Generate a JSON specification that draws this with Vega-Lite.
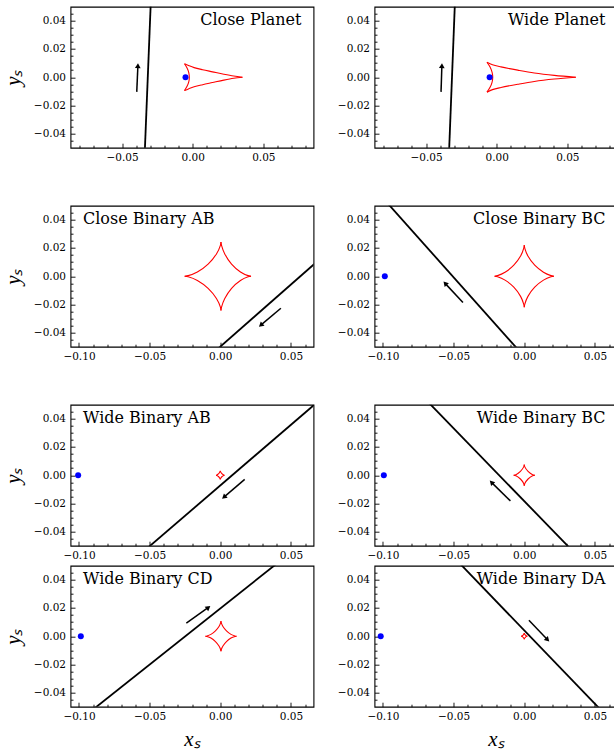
{
"$schema": "https://vega.github.io/schema/vega-lite/v6.json",
"padding": {"left": 1.5, "top": 5.7, "right": 0, "bottom": 0},
"background": "white",
"config": {
 "view": {"stroke": "black", "strokeWidth": 1.1},
 "axis": {"domain": false, "grid": false, "tickColor": "black", "tickWidth": 0.9, "labelFont": "DejaVu Serif", "labelFontSize": 10.5, "labelColor": "black", "titleFont": "Liberation Serif", "titleFontStyle": "italic", "titleFontWeight": "normal", "titleFontSize": 21, "titleColor": "black", "labelOverlap": false, "labelFlush": false},
 "title": {"font": "DejaVu Serif", "fontSize": 16, "fontWeight": "normal", "color": "black", "frame": "group", "offset": -21, "baseline": "alphabetic"}
},
"data": {"values": [
 {"p":1,"k":"t","s":0,"i":0,"x":-0.0342,"y":-0.06},{"p":1,"k":"t","s":0,"i":1,"x":-0.0294,"y":0.06},
 {"p":1,"k":"a","s":0,"i":0,"x":-0.0396,"y":-0.0104},{"p":1,"k":"a","s":0,"i":1,"x":-0.0388,"y":0.0081},
 {"p":1,"k":"h","s":0,"i":0,"x":-0.0388,"y":0.0081},
 {"p":1,"k":"s","s":0,"i":0,"x":-0.0051,"y":0},
 {"p":1,"k":"c","s":1,"i":0,"x":-0.0058,"y":0.0095},{"p":1,"k":"c","s":1,"i":1,"x":-0.003,"y":0.0083},{"p":1,"k":"c","s":1,"i":2,"x":0.001,"y":0.0068},{"p":1,"k":"c","s":1,"i":3,"x":0.007,"y":0.0053},{"p":1,"k":"c","s":1,"i":4,"x":0.014,"y":0.0038},{"p":1,"k":"c","s":1,"i":5,"x":0.022,"y":0.0021},{"p":1,"k":"c","s":1,"i":6,"x":0.029,"y":0.0008},{"p":1,"k":"c","s":1,"i":7,"x":0.0352,"y":0},
 {"p":1,"k":"c","s":2,"i":0,"x":-0.0058,"y":-0.0095},{"p":1,"k":"c","s":2,"i":1,"x":-0.003,"y":-0.0083},{"p":1,"k":"c","s":2,"i":2,"x":0.001,"y":-0.0068},{"p":1,"k":"c","s":2,"i":3,"x":0.007,"y":-0.0053},{"p":1,"k":"c","s":2,"i":4,"x":0.014,"y":-0.0038},{"p":1,"k":"c","s":2,"i":5,"x":0.022,"y":-0.0021},{"p":1,"k":"c","s":2,"i":6,"x":0.029,"y":-0.0008},{"p":1,"k":"c","s":2,"i":7,"x":0.0352,"y":0},
 {"p":1,"k":"c","s":3,"i":0,"x":-0.0058,"y":0.0095},{"p":1,"k":"c","s":3,"i":1,"x":-0.004,"y":0.0065},{"p":1,"k":"c","s":3,"i":2,"x":-0.0028,"y":0.0033},{"p":1,"k":"c","s":3,"i":3,"x":-0.0024,"y":0},{"p":1,"k":"c","s":3,"i":4,"x":-0.0028,"y":-0.0033},{"p":1,"k":"c","s":3,"i":5,"x":-0.004,"y":-0.0065},{"p":1,"k":"c","s":3,"i":6,"x":-0.0058,"y":-0.0095},

 {"p":2,"k":"t","s":0,"i":0,"x":-0.034,"y":-0.06},{"p":2,"k":"t","s":0,"i":1,"x":-0.0293,"y":0.06},
 {"p":2,"k":"a","s":0,"i":0,"x":-0.0394,"y":-0.0104},{"p":2,"k":"a","s":0,"i":1,"x":-0.0388,"y":0.0081},
 {"p":2,"k":"h","s":0,"i":0,"x":-0.0388,"y":0.0081},
 {"p":2,"k":"s","s":0,"i":0,"x":-0.005,"y":0},
 {"p":2,"k":"c","s":1,"i":0,"x":-0.0069,"y":0.0106},{"p":2,"k":"c","s":1,"i":1,"x":-0.003,"y":0.0088},{"p":2,"k":"c","s":1,"i":2,"x":0.003,"y":0.0073},{"p":2,"k":"c","s":1,"i":3,"x":0.0149,"y":0.005},{"p":2,"k":"c","s":1,"i":4,"x":0.0266,"y":0.003},{"p":2,"k":"c","s":1,"i":5,"x":0.0408,"y":0.0013},{"p":2,"k":"c","s":1,"i":6,"x":0.056,"y":0},
 {"p":2,"k":"c","s":2,"i":0,"x":-0.0069,"y":-0.0106},{"p":2,"k":"c","s":2,"i":1,"x":-0.003,"y":-0.0088},{"p":2,"k":"c","s":2,"i":2,"x":0.003,"y":-0.0073},{"p":2,"k":"c","s":2,"i":3,"x":0.0149,"y":-0.005},{"p":2,"k":"c","s":2,"i":4,"x":0.0266,"y":-0.003},{"p":2,"k":"c","s":2,"i":5,"x":0.0408,"y":-0.0013},{"p":2,"k":"c","s":2,"i":6,"x":0.056,"y":0},
 {"p":2,"k":"c","s":3,"i":0,"x":-0.0069,"y":0.0106},{"p":2,"k":"c","s":3,"i":1,"x":-0.0047,"y":0.0072},{"p":2,"k":"c","s":3,"i":2,"x":-0.0033,"y":0.0036},{"p":2,"k":"c","s":3,"i":3,"x":-0.0028,"y":0},{"p":2,"k":"c","s":3,"i":4,"x":-0.0033,"y":-0.0036},{"p":2,"k":"c","s":3,"i":5,"x":-0.0047,"y":-0.0072},{"p":2,"k":"c","s":3,"i":6,"x":-0.0069,"y":-0.0106},

 {"p":3,"k":"t","s":0,"i":0,"x":-0.01,"y":-0.0588},{"p":3,"k":"t","s":0,"i":1,"x":0.08,"y":0.0205},
 {"p":3,"k":"a","s":0,"i":0,"x":0.0429,"y":-0.0227},{"p":3,"k":"a","s":0,"i":1,"x":0.0287,"y":-0.0347},
 {"p":3,"k":"h","s":0,"i":0,"x":0.0287,"y":-0.0347},
 {"p":3,"k":"c","s":1,"i":0,"x":0.0218,"y":0},{"p":3,"k":"c","s":1,"i":1,"x":0.0197,"y":0.0004},{"p":3,"k":"c","s":1,"i":2,"x":0.0143,"y":0.003},{"p":3,"k":"c","s":1,"i":3,"x":0.008,"y":0.0086},{"p":3,"k":"c","s":1,"i":4,"x":0.0032,"y":0.0158},{"p":3,"k":"c","s":1,"i":5,"x":0.0009,"y":0.0219},{"p":3,"k":"c","s":1,"i":6,"x":0.0005,"y":0.0243},
 {"p":3,"k":"c","s":2,"i":0,"x":0.0218,"y":0},{"p":3,"k":"c","s":2,"i":1,"x":0.0197,"y":-0.0004},{"p":3,"k":"c","s":2,"i":2,"x":0.0143,"y":-0.003},{"p":3,"k":"c","s":2,"i":3,"x":0.008,"y":-0.0086},{"p":3,"k":"c","s":2,"i":4,"x":0.0032,"y":-0.0158},{"p":3,"k":"c","s":2,"i":5,"x":0.0009,"y":-0.0219},{"p":3,"k":"c","s":2,"i":6,"x":0.0005,"y":-0.0243},
 {"p":3,"k":"c","s":3,"i":0,"x":-0.0252,"y":0},{"p":3,"k":"c","s":3,"i":1,"x":-0.0227,"y":0.0004},{"p":3,"k":"c","s":3,"i":2,"x":-0.0162,"y":0.003},{"p":3,"k":"c","s":3,"i":3,"x":-0.0086,"y":0.0086},{"p":3,"k":"c","s":3,"i":4,"x":-0.0027,"y":0.0158},{"p":3,"k":"c","s":3,"i":5,"x":0.0001,"y":0.0219},{"p":3,"k":"c","s":3,"i":6,"x":0.0005,"y":0.0243},
 {"p":3,"k":"c","s":4,"i":0,"x":-0.0252,"y":0},{"p":3,"k":"c","s":4,"i":1,"x":-0.0227,"y":-0.0004},{"p":3,"k":"c","s":4,"i":2,"x":-0.0162,"y":-0.003},{"p":3,"k":"c","s":4,"i":3,"x":-0.0086,"y":-0.0086},{"p":3,"k":"c","s":4,"i":4,"x":-0.0027,"y":-0.0158},{"p":3,"k":"c","s":4,"i":5,"x":0.0001,"y":-0.0219},{"p":3,"k":"c","s":4,"i":6,"x":0.0005,"y":-0.0243},

 {"p":4,"k":"t","s":0,"i":0,"x":-0.1041,"y":0.06},{"p":4,"k":"t","s":0,"i":1,"x":0.0027,"y":-0.06},
 {"p":4,"k":"a","s":0,"i":0,"x":-0.0434,"y":-0.0186},{"p":4,"k":"a","s":0,"i":1,"x":-0.056,"y":-0.0051},
 {"p":4,"k":"h","s":0,"i":0,"x":-0.056,"y":-0.0051},
 {"p":4,"k":"s","s":0,"i":0,"x":-0.0987,"y":0},
 {"p":4,"k":"c","s":1,"i":0,"x":0.021,"y":0},{"p":4,"k":"c","s":1,"i":1,"x":0.0189,"y":0.0004},{"p":4,"k":"c","s":1,"i":2,"x":0.0136,"y":0.0028},{"p":4,"k":"c","s":1,"i":3,"x":0.0074,"y":0.0078},{"p":4,"k":"c","s":1,"i":4,"x":0.0026,"y":0.0143},{"p":4,"k":"c","s":1,"i":5,"x":0.0004,"y":0.0198},{"p":4,"k":"c","s":1,"i":6,"x":0,"y":0.022},
 {"p":4,"k":"c","s":2,"i":0,"x":0.021,"y":0},{"p":4,"k":"c","s":2,"i":1,"x":0.0189,"y":-0.0004},{"p":4,"k":"c","s":2,"i":2,"x":0.0136,"y":-0.0028},{"p":4,"k":"c","s":2,"i":3,"x":0.0074,"y":-0.0078},{"p":4,"k":"c","s":2,"i":4,"x":0.0026,"y":-0.0143},{"p":4,"k":"c","s":2,"i":5,"x":0.0004,"y":-0.0198},{"p":4,"k":"c","s":2,"i":6,"x":0,"y":-0.022},
 {"p":4,"k":"c","s":3,"i":0,"x":-0.021,"y":0},{"p":4,"k":"c","s":3,"i":1,"x":-0.0189,"y":0.0004},{"p":4,"k":"c","s":3,"i":2,"x":-0.0136,"y":0.0028},{"p":4,"k":"c","s":3,"i":3,"x":-0.0074,"y":0.0078},{"p":4,"k":"c","s":3,"i":4,"x":-0.0026,"y":0.0143},{"p":4,"k":"c","s":3,"i":5,"x":-0.0004,"y":0.0198},{"p":4,"k":"c","s":3,"i":6,"x":0,"y":0.022},
 {"p":4,"k":"c","s":4,"i":0,"x":-0.021,"y":0},{"p":4,"k":"c","s":4,"i":1,"x":-0.0189,"y":-0.0004},{"p":4,"k":"c","s":4,"i":2,"x":-0.0136,"y":-0.0028},{"p":4,"k":"c","s":4,"i":3,"x":-0.0074,"y":-0.0078},{"p":4,"k":"c","s":4,"i":4,"x":-0.0026,"y":-0.0143},{"p":4,"k":"c","s":4,"i":5,"x":-0.0004,"y":-0.0198},{"p":4,"k":"c","s":4,"i":6,"x":0,"y":-0.022},

 {"p":5,"k":"t","s":0,"i":0,"x":-0.0612,"y":-0.06},{"p":5,"k":"t","s":0,"i":1,"x":0.0782,"y":0.06},
 {"p":5,"k":"a","s":0,"i":0,"x":0.0173,"y":-0.003},{"p":5,"k":"a","s":0,"i":1,"x":0.0026,"y":-0.0156},
 {"p":5,"k":"h","s":0,"i":0,"x":0.0026,"y":-0.0156},
 {"p":5,"k":"s","s":0,"i":0,"x":-0.1006,"y":0},
 {"p":5,"k":"c","s":1,"i":0,"x":0.003,"y":0},{"p":5,"k":"c","s":1,"i":1,"x":0.0024,"y":0.0002},{"p":5,"k":"c","s":1,"i":2,"x":0.0011,"y":0.0011},{"p":5,"k":"c","s":1,"i":3,"x":0.0002,"y":0.0024},{"p":5,"k":"c","s":1,"i":4,"x":0,"y":0.003},
 {"p":5,"k":"c","s":2,"i":0,"x":0.003,"y":0},{"p":5,"k":"c","s":2,"i":1,"x":0.0024,"y":-0.0002},{"p":5,"k":"c","s":2,"i":2,"x":0.0011,"y":-0.0011},{"p":5,"k":"c","s":2,"i":3,"x":0.0002,"y":-0.0024},{"p":5,"k":"c","s":2,"i":4,"x":0,"y":-0.003},
 {"p":5,"k":"c","s":3,"i":0,"x":-0.003,"y":0},{"p":5,"k":"c","s":3,"i":1,"x":-0.0024,"y":0.0002},{"p":5,"k":"c","s":3,"i":2,"x":-0.0011,"y":0.0011},{"p":5,"k":"c","s":3,"i":3,"x":-0.0002,"y":0.0024},{"p":5,"k":"c","s":3,"i":4,"x":0,"y":0.003},
 {"p":5,"k":"c","s":4,"i":0,"x":-0.003,"y":0},{"p":5,"k":"c","s":4,"i":1,"x":-0.0024,"y":-0.0002},{"p":5,"k":"c","s":4,"i":2,"x":-0.0011,"y":-0.0011},{"p":5,"k":"c","s":4,"i":3,"x":-0.0002,"y":-0.0024},{"p":5,"k":"c","s":4,"i":4,"x":0,"y":-0.003},

 {"p":6,"k":"t","s":0,"i":0,"x":-0.0759,"y":0.06},{"p":6,"k":"t","s":0,"i":1,"x":0.0403,"y":-0.06},
 {"p":6,"k":"a","s":0,"i":0,"x":-0.0098,"y":-0.0182},{"p":6,"k":"a","s":0,"i":1,"x":-0.0232,"y":-0.0051},
 {"p":6,"k":"h","s":0,"i":0,"x":-0.0232,"y":-0.0051},
 {"p":6,"k":"s","s":0,"i":0,"x":-0.0994,"y":0},
 {"p":6,"k":"c","s":1,"i":0,"x":0.0075,"y":0},{"p":6,"k":"c","s":1,"i":1,"x":0.0059,"y":0.0004},{"p":6,"k":"c","s":1,"i":2,"x":0.0027,"y":0.0027},{"p":6,"k":"c","s":1,"i":3,"x":0.0004,"y":0.0059},{"p":6,"k":"c","s":1,"i":4,"x":0,"y":0.0075},
 {"p":6,"k":"c","s":2,"i":0,"x":0.0075,"y":0},{"p":6,"k":"c","s":2,"i":1,"x":0.0059,"y":-0.0004},{"p":6,"k":"c","s":2,"i":2,"x":0.0027,"y":-0.0027},{"p":6,"k":"c","s":2,"i":3,"x":0.0004,"y":-0.0059},{"p":6,"k":"c","s":2,"i":4,"x":0,"y":-0.0075},
 {"p":6,"k":"c","s":3,"i":0,"x":-0.0075,"y":0},{"p":6,"k":"c","s":3,"i":1,"x":-0.0059,"y":0.0004},{"p":6,"k":"c","s":3,"i":2,"x":-0.0027,"y":0.0027},{"p":6,"k":"c","s":3,"i":3,"x":-0.0004,"y":0.0059},{"p":6,"k":"c","s":3,"i":4,"x":0,"y":0.0075},
 {"p":6,"k":"c","s":4,"i":0,"x":-0.0075,"y":0},{"p":6,"k":"c","s":4,"i":1,"x":-0.0059,"y":-0.0004},{"p":6,"k":"c","s":4,"i":2,"x":-0.0027,"y":-0.0027},{"p":6,"k":"c","s":4,"i":3,"x":-0.0004,"y":-0.0059},{"p":6,"k":"c","s":4,"i":4,"x":0,"y":-0.0075},

 {"p":7,"k":"t","s":0,"i":0,"x":-0.1001,"y":-0.06},{"p":7,"k":"t","s":0,"i":1,"x":0.0507,"y":0.06},
 {"p":7,"k":"a","s":0,"i":0,"x":-0.024,"y":0.0093},{"p":7,"k":"a","s":0,"i":1,"x":-0.0084,"y":0.0204},
 {"p":7,"k":"h","s":0,"i":0,"x":-0.0084,"y":0.0204},
 {"p":7,"k":"s","s":0,"i":0,"x":-0.0987,"y":0},
 {"p":7,"k":"c","s":1,"i":0,"x":0.0115,"y":0},{"p":7,"k":"c","s":1,"i":1,"x":0.0104,"y":0.0002},{"p":7,"k":"c","s":1,"i":2,"x":0.0076,"y":0.0013},{"p":7,"k":"c","s":1,"i":3,"x":0.0044,"y":0.0038},{"p":7,"k":"c","s":1,"i":4,"x":0.0019,"y":0.0069},{"p":7,"k":"c","s":1,"i":5,"x":0.0007,"y":0.0096},{"p":7,"k":"c","s":1,"i":6,"x":0.0005,"y":0.0107},
 {"p":7,"k":"c","s":2,"i":0,"x":0.0115,"y":0},{"p":7,"k":"c","s":2,"i":1,"x":0.0104,"y":-0.0002},{"p":7,"k":"c","s":2,"i":2,"x":0.0076,"y":-0.0013},{"p":7,"k":"c","s":2,"i":3,"x":0.0044,"y":-0.0038},{"p":7,"k":"c","s":2,"i":4,"x":0.0019,"y":-0.0069},{"p":7,"k":"c","s":2,"i":5,"x":0.0007,"y":-0.0096},{"p":7,"k":"c","s":2,"i":6,"x":0.0005,"y":-0.0107},
 {"p":7,"k":"c","s":3,"i":0,"x":-0.0105,"y":0},{"p":7,"k":"c","s":3,"i":1,"x":-0.0094,"y":0.0002},{"p":7,"k":"c","s":3,"i":2,"x":-0.0066,"y":0.0013},{"p":7,"k":"c","s":3,"i":3,"x":-0.0034,"y":0.0038},{"p":7,"k":"c","s":3,"i":4,"x":-0.0009,"y":0.0069},{"p":7,"k":"c","s":3,"i":5,"x":0.0003,"y":0.0096},{"p":7,"k":"c","s":3,"i":6,"x":0.0005,"y":0.0107},
 {"p":7,"k":"c","s":4,"i":0,"x":-0.0105,"y":0},{"p":7,"k":"c","s":4,"i":1,"x":-0.0094,"y":-0.0002},{"p":7,"k":"c","s":4,"i":2,"x":-0.0066,"y":-0.0013},{"p":7,"k":"c","s":4,"i":3,"x":-0.0034,"y":-0.0038},{"p":7,"k":"c","s":4,"i":4,"x":-0.0009,"y":-0.0069},{"p":7,"k":"c","s":4,"i":5,"x":0.0003,"y":-0.0096},{"p":7,"k":"c","s":4,"i":6,"x":0.0005,"y":-0.0107},

 {"p":8,"k":"t","s":0,"i":0,"x":-0.0537,"y":0.06},{"p":8,"k":"t","s":0,"i":1,"x":0.0616,"y":-0.06},
 {"p":8,"k":"a","s":0,"i":0,"x":0.0033,"y":0.0113},{"p":8,"k":"a","s":0,"i":1,"x":0.0165,"y":-0.0025},
 {"p":8,"k":"h","s":0,"i":0,"x":0.0165,"y":-0.0025},
 {"p":8,"k":"s","s":0,"i":0,"x":-0.1016,"y":0},
 {"p":8,"k":"c","s":1,"i":0,"x":0.0022,"y":0},{"p":8,"k":"c","s":1,"i":1,"x":0.0017,"y":0.0001},{"p":8,"k":"c","s":1,"i":2,"x":0.0008,"y":0.0008},{"p":8,"k":"c","s":1,"i":3,"x":0.0001,"y":0.0017},{"p":8,"k":"c","s":1,"i":4,"x":0,"y":0.0022},
 {"p":8,"k":"c","s":2,"i":0,"x":0.0022,"y":0},{"p":8,"k":"c","s":2,"i":1,"x":0.0017,"y":-0.0001},{"p":8,"k":"c","s":2,"i":2,"x":0.0008,"y":-0.0008},{"p":8,"k":"c","s":2,"i":3,"x":0.0001,"y":-0.0017},{"p":8,"k":"c","s":2,"i":4,"x":0,"y":-0.0022},
 {"p":8,"k":"c","s":3,"i":0,"x":-0.0022,"y":0},{"p":8,"k":"c","s":3,"i":1,"x":-0.0017,"y":0.0001},{"p":8,"k":"c","s":3,"i":2,"x":-0.0008,"y":0.0008},{"p":8,"k":"c","s":3,"i":3,"x":-0.0001,"y":0.0017},{"p":8,"k":"c","s":3,"i":4,"x":0,"y":0.0022},
 {"p":8,"k":"c","s":4,"i":0,"x":-0.0022,"y":0},{"p":8,"k":"c","s":4,"i":1,"x":-0.0017,"y":-0.0001},{"p":8,"k":"c","s":4,"i":2,"x":-0.0008,"y":-0.0008},{"p":8,"k":"c","s":4,"i":3,"x":-0.0001,"y":-0.0017},{"p":8,"k":"c","s":4,"i":4,"x":0,"y":-0.0022}
]},
"spacing": 39,
"vconcat": [
 {"hconcat": [
  {"width": 243, "height": 141, "title": {"text": "Close Planet", "anchor": "end", "dx": -12},
   "transform": [{"filter": "datum.p == 1"}],
   "encoding": {
    "x": {"field": "x", "type": "quantitative", "scale": {"domain": [-0.0865, 0.0855], "nice": false, "zero": false}, "axis": {"title": null, "values": [-0.08,-0.07,-0.06,-0.05,-0.04,-0.03,-0.02,-0.01,0,0.01,0.02,0.03,0.04,0.05,0.06,0.07,0.08], "format": ".2f", "labelExpr": "abs(datum.value*20 - round(datum.value*20)) < 0.001 ? datum.label : ''", "tickSize": {"condition": {"test": "abs(datum.value*20 - round(datum.value*20)) < 0.001", "value": -4.5}, "value": -2.5}, "labelPadding": 9}},
    "y": {"field": "y", "type": "quantitative", "scale": {"domain": [-0.05, 0.05], "nice": false, "zero": false}, "axis": {"title": "yₛ", "titlePadding": 9.5, "values": [-0.045,-0.04,-0.035,-0.03,-0.025,-0.02,-0.015,-0.01,-0.005,0,0.005,0.01,0.015,0.02,0.025,0.03,0.035,0.04,0.045], "format": ".2f", "labelExpr": "abs(datum.value*50 - round(datum.value*50)) < 0.001 ? datum.label : ''", "tickSize": {"condition": {"test": "abs(datum.value*50 - round(datum.value*50)) < 0.001", "value": -4.5}, "value": -2.5}, "labelPadding": 9.5}}
   },
   "layer": [
    {"transform": [{"filter": "datum.k == 't'"}], "mark": {"type": "line", "clip": true, "color": "black", "strokeWidth": 1.8}, "encoding": {"order": {"field": "i"}}},
    {"transform": [{"filter": "datum.k == 'c'"}], "mark": {"type": "line", "clip": true, "color": "red", "strokeWidth": 1.1, "interpolate": "catmull-rom"}, "encoding": {"detail": {"field": "s"}, "order": {"field": "i"}}},
    {"transform": [{"filter": "datum.k == 'a'"}], "mark": {"type": "line", "color": "black", "strokeWidth": 1.5}, "encoding": {"order": {"field": "i"}}},
    {"transform": [{"filter": "datum.k == 'h'"}], "mark": {"type": "point", "shape": "triangle-up", "filled": true, "color": "black", "opacity": 1, "size": 32, "angle": 2.5}},
    {"transform": [{"filter": "datum.k == 's'"}], "mark": {"type": "circle", "color": "blue", "opacity": 1, "size": 36}}
   ]},
  {"width": 243, "height": 141, "title": {"text": "Wide Planet", "anchor": "end", "dx": -12},
   "transform": [{"filter": "datum.p == 2"}],
   "encoding": {
    "x": {"field": "x", "type": "quantitative", "scale": {"domain": [-0.0865, 0.0855], "nice": false, "zero": false}, "axis": {"title": null, "values": [-0.08,-0.07,-0.06,-0.05,-0.04,-0.03,-0.02,-0.01,0,0.01,0.02,0.03,0.04,0.05,0.06,0.07,0.08], "format": ".2f", "labelExpr": "abs(datum.value*20 - round(datum.value*20)) < 0.001 ? datum.label : ''", "tickSize": {"condition": {"test": "abs(datum.value*20 - round(datum.value*20)) < 0.001", "value": -4.5}, "value": -2.5}, "labelPadding": 9}},
    "y": {"field": "y", "type": "quantitative", "scale": {"domain": [-0.05, 0.05], "nice": false, "zero": false}, "axis": {"title": null, "values": [-0.045,-0.04,-0.035,-0.03,-0.025,-0.02,-0.015,-0.01,-0.005,0,0.005,0.01,0.015,0.02,0.025,0.03,0.035,0.04,0.045], "format": ".2f", "labelExpr": "abs(datum.value*50 - round(datum.value*50)) < 0.001 ? datum.label : ''", "tickSize": {"condition": {"test": "abs(datum.value*50 - round(datum.value*50)) < 0.001", "value": -4.5}, "value": -2.5}, "labelPadding": 9.5}}
   },
   "layer": [
    {"transform": [{"filter": "datum.k == 't'"}], "mark": {"type": "line", "clip": true, "color": "black", "strokeWidth": 1.8}, "encoding": {"order": {"field": "i"}}},
    {"transform": [{"filter": "datum.k == 'c'"}], "mark": {"type": "line", "clip": true, "color": "red", "strokeWidth": 1.1, "interpolate": "catmull-rom"}, "encoding": {"detail": {"field": "s"}, "order": {"field": "i"}}},
    {"transform": [{"filter": "datum.k == 'a'"}], "mark": {"type": "line", "color": "black", "strokeWidth": 1.5}, "encoding": {"order": {"field": "i"}}},
    {"transform": [{"filter": "datum.k == 'h'"}], "mark": {"type": "point", "shape": "triangle-up", "filled": true, "color": "black", "opacity": 1, "size": 32, "angle": 2.5}},
    {"transform": [{"filter": "datum.k == 's'"}], "mark": {"type": "circle", "color": "blue", "opacity": 1, "size": 36}}
   ]}
 ], "spacing": 22},
 {"hconcat": [
  {"width": 243, "height": 141, "title": {"text": "Close Binary AB", "anchor": "start", "dx": 12.5},
   "transform": [{"filter": "datum.p == 3"}],
   "encoding": {
    "x": {"field": "x", "type": "quantitative", "scale": {"domain": [-0.106, 0.066], "nice": false, "zero": false}, "axis": {"title": null, "values": [-0.1,-0.09,-0.08,-0.07,-0.06,-0.05,-0.04,-0.03,-0.02,-0.01,0,0.01,0.02,0.03,0.04,0.05,0.06], "format": ".2f", "labelExpr": "abs(datum.value*20 - round(datum.value*20)) < 0.001 ? datum.label : ''", "tickSize": {"condition": {"test": "abs(datum.value*20 - round(datum.value*20)) < 0.001", "value": -4.5}, "value": -2.5}, "labelPadding": 9}},
    "y": {"field": "y", "type": "quantitative", "scale": {"domain": [-0.05, 0.05], "nice": false, "zero": false}, "axis": {"title": "yₛ", "titlePadding": 9.5, "values": [-0.045,-0.04,-0.035,-0.03,-0.025,-0.02,-0.015,-0.01,-0.005,0,0.005,0.01,0.015,0.02,0.025,0.03,0.035,0.04,0.045], "format": ".2f", "labelExpr": "abs(datum.value*50 - round(datum.value*50)) < 0.001 ? datum.label : ''", "tickSize": {"condition": {"test": "abs(datum.value*50 - round(datum.value*50)) < 0.001", "value": -4.5}, "value": -2.5}, "labelPadding": 9.5}}
   },
   "layer": [
    {"transform": [{"filter": "datum.k == 't'"}], "mark": {"type": "line", "clip": true, "color": "black", "strokeWidth": 1.8}, "encoding": {"order": {"field": "i"}}},
    {"transform": [{"filter": "datum.k == 'c'"}], "mark": {"type": "line", "clip": true, "color": "red", "strokeWidth": 1.1, "interpolate": "catmull-rom"}, "encoding": {"detail": {"field": "s"}, "order": {"field": "i"}}},
    {"transform": [{"filter": "datum.k == 'a'"}], "mark": {"type": "line", "color": "black", "strokeWidth": 1.5}, "encoding": {"order": {"field": "i"}}},
    {"transform": [{"filter": "datum.k == 'h'"}], "mark": {"type": "point", "shape": "triangle-up", "filled": true, "color": "black", "opacity": 1, "size": 32, "angle": 229}}
   ]},
  {"width": 243, "height": 141, "title": {"text": "Close Binary BC", "anchor": "end", "dx": -12},
   "transform": [{"filter": "datum.p == 4"}],
   "encoding": {
    "x": {"field": "x", "type": "quantitative", "scale": {"domain": [-0.106, 0.066], "nice": false, "zero": false}, "axis": {"title": null, "values": [-0.1,-0.09,-0.08,-0.07,-0.06,-0.05,-0.04,-0.03,-0.02,-0.01,0,0.01,0.02,0.03,0.04,0.05,0.06], "format": ".2f", "labelExpr": "abs(datum.value*20 - round(datum.value*20)) < 0.001 ? datum.label : ''", "tickSize": {"condition": {"test": "abs(datum.value*20 - round(datum.value*20)) < 0.001", "value": -4.5}, "value": -2.5}, "labelPadding": 9}},
    "y": {"field": "y", "type": "quantitative", "scale": {"domain": [-0.05, 0.05], "nice": false, "zero": false}, "axis": {"title": null, "values": [-0.045,-0.04,-0.035,-0.03,-0.025,-0.02,-0.015,-0.01,-0.005,0,0.005,0.01,0.015,0.02,0.025,0.03,0.035,0.04,0.045], "format": ".2f", "labelExpr": "abs(datum.value*50 - round(datum.value*50)) < 0.001 ? datum.label : ''", "tickSize": {"condition": {"test": "abs(datum.value*50 - round(datum.value*50)) < 0.001", "value": -4.5}, "value": -2.5}, "labelPadding": 9.5}}
   },
   "layer": [
    {"transform": [{"filter": "datum.k == 't'"}], "mark": {"type": "line", "clip": true, "color": "black", "strokeWidth": 1.8}, "encoding": {"order": {"field": "i"}}},
    {"transform": [{"filter": "datum.k == 'c'"}], "mark": {"type": "line", "clip": true, "color": "red", "strokeWidth": 1.1, "interpolate": "catmull-rom"}, "encoding": {"detail": {"field": "s"}, "order": {"field": "i"}}},
    {"transform": [{"filter": "datum.k == 'a'"}], "mark": {"type": "line", "color": "black", "strokeWidth": 1.5}, "encoding": {"order": {"field": "i"}}},
    {"transform": [{"filter": "datum.k == 'h'"}], "mark": {"type": "point", "shape": "triangle-up", "filled": true, "color": "black", "opacity": 1, "size": 32, "angle": 318}},
    {"transform": [{"filter": "datum.k == 's'"}], "mark": {"type": "circle", "color": "blue", "opacity": 1, "size": 36}}
   ]}
 ], "spacing": 22},
 {"vconcat": [
  {"hconcat": [
   {"width": 243, "height": 141, "title": {"text": "Wide Binary AB", "anchor": "start", "dx": 12.5},
    "transform": [{"filter": "datum.p == 5"}],
    "encoding": {
     "x": {"field": "x", "type": "quantitative", "scale": {"domain": [-0.106, 0.066], "nice": false, "zero": false}, "axis": {"title": null, "values": [-0.1,-0.09,-0.08,-0.07,-0.06,-0.05,-0.04,-0.03,-0.02,-0.01,0,0.01,0.02,0.03,0.04,0.05,0.06], "format": ".2f", "labelExpr": "abs(datum.value*20 - round(datum.value*20)) < 0.001 ? datum.label : ''", "tickSize": {"condition": {"test": "abs(datum.value*20 - round(datum.value*20)) < 0.001", "value": -4.5}, "value": -2.5}, "labelPadding": 9}},
     "y": {"field": "y", "type": "quantitative", "scale": {"domain": [-0.05, 0.05], "nice": false, "zero": false}, "axis": {"title": "yₛ", "titlePadding": 9.5, "values": [-0.045,-0.04,-0.035,-0.03,-0.025,-0.02,-0.015,-0.01,-0.005,0,0.005,0.01,0.015,0.02,0.025,0.03,0.035,0.04,0.045], "format": ".2f", "labelExpr": "abs(datum.value*50 - round(datum.value*50)) < 0.001 ? datum.label : ''", "tickSize": {"condition": {"test": "abs(datum.value*50 - round(datum.value*50)) < 0.001", "value": -4.5}, "value": -2.5}, "labelPadding": 9.5}}
    },
    "layer": [
     {"transform": [{"filter": "datum.k == 't'"}], "mark": {"type": "line", "clip": true, "color": "black", "strokeWidth": 1.8}, "encoding": {"order": {"field": "i"}}},
     {"transform": [{"filter": "datum.k == 'c'"}], "mark": {"type": "line", "clip": true, "color": "red", "strokeWidth": 1.1, "interpolate": "catmull-rom"}, "encoding": {"detail": {"field": "s"}, "order": {"field": "i"}}},
     {"transform": [{"filter": "datum.k == 'a'"}], "mark": {"type": "line", "color": "black", "strokeWidth": 1.5}, "encoding": {"order": {"field": "i"}}},
     {"transform": [{"filter": "datum.k == 'h'"}], "mark": {"type": "point", "shape": "triangle-up", "filled": true, "color": "black", "opacity": 1, "size": 32, "angle": 229}},
     {"transform": [{"filter": "datum.k == 's'"}], "mark": {"type": "circle", "color": "blue", "opacity": 1, "size": 36}}
    ]},
   {"width": 243, "height": 141, "title": {"text": "Wide Binary BC", "anchor": "end", "dx": -12},
    "transform": [{"filter": "datum.p == 6"}],
    "encoding": {
     "x": {"field": "x", "type": "quantitative", "scale": {"domain": [-0.106, 0.066], "nice": false, "zero": false}, "axis": {"title": null, "values": [-0.1,-0.09,-0.08,-0.07,-0.06,-0.05,-0.04,-0.03,-0.02,-0.01,0,0.01,0.02,0.03,0.04,0.05,0.06], "format": ".2f", "labelExpr": "abs(datum.value*20 - round(datum.value*20)) < 0.001 ? datum.label : ''", "tickSize": {"condition": {"test": "abs(datum.value*20 - round(datum.value*20)) < 0.001", "value": -4.5}, "value": -2.5}, "labelPadding": 9}},
     "y": {"field": "y", "type": "quantitative", "scale": {"domain": [-0.05, 0.05], "nice": false, "zero": false}, "axis": {"title": null, "values": [-0.045,-0.04,-0.035,-0.03,-0.025,-0.02,-0.015,-0.01,-0.005,0,0.005,0.01,0.015,0.02,0.025,0.03,0.035,0.04,0.045], "format": ".2f", "labelExpr": "abs(datum.value*50 - round(datum.value*50)) < 0.001 ? datum.label : ''", "tickSize": {"condition": {"test": "abs(datum.value*50 - round(datum.value*50)) < 0.001", "value": -4.5}, "value": -2.5}, "labelPadding": 9.5}}
    },
    "layer": [
     {"transform": [{"filter": "datum.k == 't'"}], "mark": {"type": "line", "clip": true, "color": "black", "strokeWidth": 1.8}, "encoding": {"order": {"field": "i"}}},
     {"transform": [{"filter": "datum.k == 'c'"}], "mark": {"type": "line", "clip": true, "color": "red", "strokeWidth": 1.1, "interpolate": "catmull-rom"}, "encoding": {"detail": {"field": "s"}, "order": {"field": "i"}}},
     {"transform": [{"filter": "datum.k == 'a'"}], "mark": {"type": "line", "color": "black", "strokeWidth": 1.5}, "encoding": {"order": {"field": "i"}}},
     {"transform": [{"filter": "datum.k == 'h'"}], "mark": {"type": "point", "shape": "triangle-up", "filled": true, "color": "black", "opacity": 1, "size": 32, "angle": 316}},
     {"transform": [{"filter": "datum.k == 's'"}], "mark": {"type": "circle", "color": "blue", "opacity": 1, "size": 36}}
    ]}
  ], "spacing": 22},
  {"hconcat": [
   {"width": 243, "height": 141, "title": {"text": "Wide Binary CD", "anchor": "start", "dx": 12.5},
    "transform": [{"filter": "datum.p == 7"}],
    "encoding": {
     "x": {"field": "x", "type": "quantitative", "scale": {"domain": [-0.106, 0.066], "nice": false, "zero": false}, "axis": {"title": "xₛ", "titlePadding": 4.5, "values": [-0.1,-0.09,-0.08,-0.07,-0.06,-0.05,-0.04,-0.03,-0.02,-0.01,0,0.01,0.02,0.03,0.04,0.05,0.06], "format": ".2f", "labelExpr": "abs(datum.value*20 - round(datum.value*20)) < 0.001 ? datum.label : ''", "tickSize": {"condition": {"test": "abs(datum.value*20 - round(datum.value*20)) < 0.001", "value": -4.5}, "value": -2.5}, "labelPadding": 9}},
     "y": {"field": "y", "type": "quantitative", "scale": {"domain": [-0.05, 0.05], "nice": false, "zero": false}, "axis": {"title": "yₛ", "titlePadding": 9.5, "values": [-0.045,-0.04,-0.035,-0.03,-0.025,-0.02,-0.015,-0.01,-0.005,0,0.005,0.01,0.015,0.02,0.025,0.03,0.035,0.04,0.045], "format": ".2f", "labelExpr": "abs(datum.value*50 - round(datum.value*50)) < 0.001 ? datum.label : ''", "tickSize": {"condition": {"test": "abs(datum.value*50 - round(datum.value*50)) < 0.001", "value": -4.5}, "value": -2.5}, "labelPadding": 9.5}}
    },
    "layer": [
     {"transform": [{"filter": "datum.k == 't'"}], "mark": {"type": "line", "clip": true, "color": "black", "strokeWidth": 1.8}, "encoding": {"order": {"field": "i"}}},
     {"transform": [{"filter": "datum.k == 'c'"}], "mark": {"type": "line", "clip": true, "color": "red", "strokeWidth": 1.1, "interpolate": "catmull-rom"}, "encoding": {"detail": {"field": "s"}, "order": {"field": "i"}}},
     {"transform": [{"filter": "datum.k == 'a'"}], "mark": {"type": "line", "color": "black", "strokeWidth": 1.5}, "encoding": {"order": {"field": "i"}}},
     {"transform": [{"filter": "datum.k == 'h'"}], "mark": {"type": "point", "shape": "triangle-up", "filled": true, "color": "black", "opacity": 1, "size": 32, "angle": 51.5}},
     {"transform": [{"filter": "datum.k == 's'"}], "mark": {"type": "circle", "color": "blue", "opacity": 1, "size": 36}}
    ]},
   {"width": 243, "height": 141, "title": {"text": "Wide Binary DA", "anchor": "end", "dx": -12},
    "transform": [{"filter": "datum.p == 8"}],
    "encoding": {
     "x": {"field": "x", "type": "quantitative", "scale": {"domain": [-0.106, 0.066], "nice": false, "zero": false}, "axis": {"title": "xₛ", "titlePadding": 4.5, "values": [-0.1,-0.09,-0.08,-0.07,-0.06,-0.05,-0.04,-0.03,-0.02,-0.01,0,0.01,0.02,0.03,0.04,0.05,0.06], "format": ".2f", "labelExpr": "abs(datum.value*20 - round(datum.value*20)) < 0.001 ? datum.label : ''", "tickSize": {"condition": {"test": "abs(datum.value*20 - round(datum.value*20)) < 0.001", "value": -4.5}, "value": -2.5}, "labelPadding": 9}},
     "y": {"field": "y", "type": "quantitative", "scale": {"domain": [-0.05, 0.05], "nice": false, "zero": false}, "axis": {"title": null, "values": [-0.045,-0.04,-0.035,-0.03,-0.025,-0.02,-0.015,-0.01,-0.005,0,0.005,0.01,0.015,0.02,0.025,0.03,0.035,0.04,0.045], "format": ".2f", "labelExpr": "abs(datum.value*50 - round(datum.value*50)) < 0.001 ? datum.label : ''", "tickSize": {"condition": {"test": "abs(datum.value*50 - round(datum.value*50)) < 0.001", "value": -4.5}, "value": -2.5}, "labelPadding": 9.5}}
    },
    "layer": [
     {"transform": [{"filter": "datum.k == 't'"}], "mark": {"type": "line", "clip": true, "color": "black", "strokeWidth": 1.8}, "encoding": {"order": {"field": "i"}}},
     {"transform": [{"filter": "datum.k == 'c'"}], "mark": {"type": "line", "clip": true, "color": "red", "strokeWidth": 1.1, "interpolate": "catmull-rom"}, "encoding": {"detail": {"field": "s"}, "order": {"field": "i"}}},
     {"transform": [{"filter": "datum.k == 'a'"}], "mark": {"type": "line", "color": "black", "strokeWidth": 1.5}, "encoding": {"order": {"field": "i"}}},
     {"transform": [{"filter": "datum.k == 'h'"}], "mark": {"type": "point", "shape": "triangle-up", "filled": true, "color": "black", "opacity": 1, "size": 32, "angle": 136}},
     {"transform": [{"filter": "datum.k == 's'"}], "mark": {"type": "circle", "color": "blue", "opacity": 1, "size": 36}}
    ]}
  ], "spacing": 22}
 ], "spacing": 1}
]
}
